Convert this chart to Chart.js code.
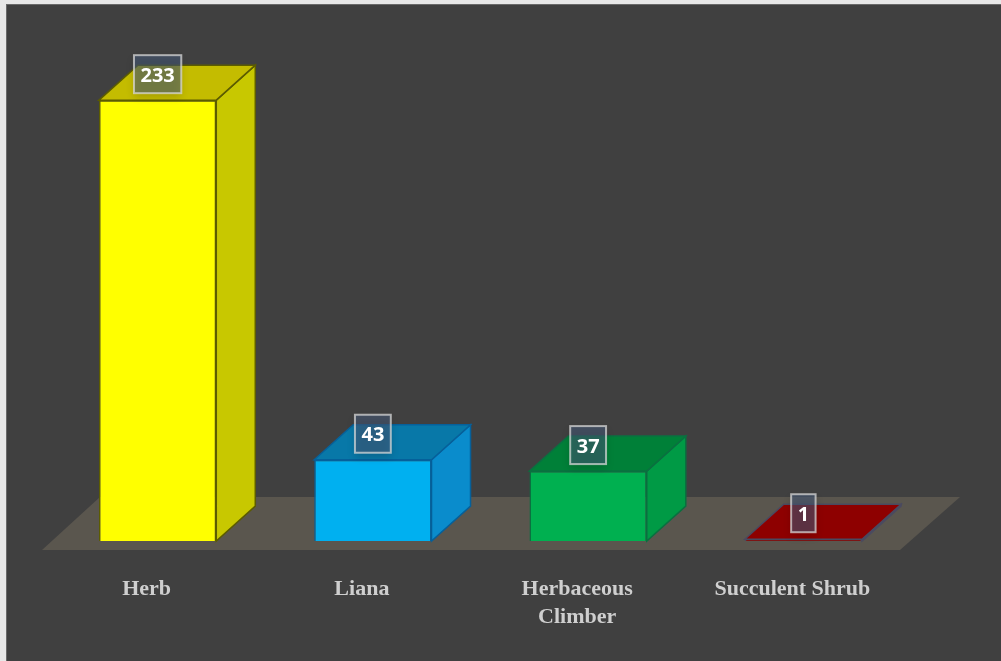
<!DOCTYPE html>
<html>
<head>
<meta charset="utf-8">
<style>
  html, body { margin: 0; padding: 0; background: #e8e8e8; }
  #wrap { position: absolute; left: 6px; top: 4px; width: 995px; height: 657px; background: #404040; overflow: hidden; box-shadow: inset 1px 1px 0 #6a6a6a; }
  #habitChart { filter: blur(0.5px); }
</style>
<script src="https://cdn.jsdelivr.net/npm/chart.js@4"></script>
</head>
<body>
<div id="wrap"><canvas id="habitChart" width="995" height="657"></canvas></div>
<script>
const categories = ['Herb', 'Liana', ['Herbaceous', 'Climber'], 'Succulent Shrub'];
const counts = [233, 43, 37, 1];
const frontColors = ['#ffff00', '#00b0f0', '#00b050', '#8b0000'];
const sideColors = ['#c8c800', '#0a8ccc', '#009a45', '#8b0000'];
const topColors = ['#c4bc00', '#0878a8', '#008038', '#8e0000'];
const edgeColors = ['#5c5c00', '#06609a', '#0a7040', '#4a4a60'];

const depthX = 39, depthY = 35;

function poly(ctx, pts, fill, stroke, lw) {
    ctx.beginPath();
    pts.forEach((p, i) => i ? ctx.lineTo(p[0], p[1]) : ctx.moveTo(p[0], p[1]));
    ctx.closePath();
    ctx.fillStyle = fill;
    ctx.fill();
    if (stroke) {
        ctx.strokeStyle = stroke;
        ctx.lineWidth = lw || 1.5;
        ctx.stroke();
    }
}

// floor slab under the bars
const floorPlugin = {
    id: 'floor',
    beforeDatasetsDraw(chart) {
        const ctx = chart.ctx;
        const y0 = chart.scales.y.getPixelForValue(0);
        const left = chart.chartArea.left, right = chart.chartArea.right;
        poly(ctx, [[left - 8, y0 + 9], [right - 11, y0 + 9], [right + 49, y0 - 44], [left + 50, y0 - 44]], '#5a564e');
    }
};

// side and top faces + value boxes
const boxPlugin = {
    id: 'box3d',
    beforeDatasetDraw(chart) {
        const ctx = chart.ctx;
        chart.getDatasetMeta(0).data.forEach((bar, i) => {
            const p = bar.getProps(['x', 'y', 'base', 'width'], true);
            const l = p.x - p.width / 2, r = p.x + p.width / 2;
            poly(ctx, [[r, p.y], [r + depthX, p.y - depthY], [r + depthX, p.base - depthY], [r, p.base]], sideColors[i], edgeColors[i]);
            poly(ctx, [[l, p.y], [l + depthX, p.y - depthY], [r + depthX, p.y - depthY], [r, p.y]], topColors[i], edgeColors[i]);
        });
    },
    afterDatasetsDraw(chart) {
        const ctx = chart.ctx;
        ctx.save();
        ctx.font = 'bold 20px "Open Sans"';
        ctx.textAlign = 'center';
        ctx.textBaseline = 'middle';
        chart.getDatasetMeta(0).data.forEach((bar, i) => {
            const p = bar.getProps(['x', 'y'], true);
            const txt = String(counts[i]);
            const w = ctx.measureText(txt).width + 13;
            const cy = p.y - 26, h = 38;
            ctx.save();
            ctx.shadowColor = 'rgba(0,0,0,0.3)';
            ctx.shadowBlur = 8;
            ctx.shadowOffsetY = 4;
            ctx.fillStyle = 'rgba(70,90,120,0.55)';
            ctx.fillRect(p.x - w / 2, cy - h / 2, w, h);
            ctx.restore();
            ctx.strokeStyle = 'rgba(215,215,215,0.75)';
            ctx.lineWidth = 2;
            ctx.strokeRect(p.x - w / 2, cy - h / 2, w, h);
            ctx.fillStyle = '#ffffff';
            ctx.fillText(txt, p.x, cy + 2);
        });
        ctx.restore();
    }
};

new Chart(document.getElementById('habitChart'), {
    type: 'bar',
    data: {
        labels: categories,
        datasets: [{
            data: counts,
            backgroundColor: frontColors,
            borderColor: edgeColors,
            borderWidth: 1.5,
            categoryPercentage: 1,
            barPercentage: 0.545
        }]
    },
    options: {
        responsive: false,
        animation: false,
        layout: { padding: { left: 44, right: 90, top: 64, bottom: 4 } },
        plugins: { legend: { display: false }, tooltip: { enabled: false } },
        scales: {
            y: { display: false, min: 0, max: 250 },
            x: {
                grid: { display: false, drawBorder: false },
                border: { display: false },
                ticks: {
                    color: '#cfcfcf',
                    font: { family: '"Liberation Serif"', size: 22, weight: 'bold', lineHeight: 1.27 },
                    labelOffset: -11,
                    padding: 26,
                    maxRotation: 0,
                    autoSkip: false
                }
            }
        }
    },
    plugins: [floorPlugin, boxPlugin]
});
</script>
</body>
</html>
